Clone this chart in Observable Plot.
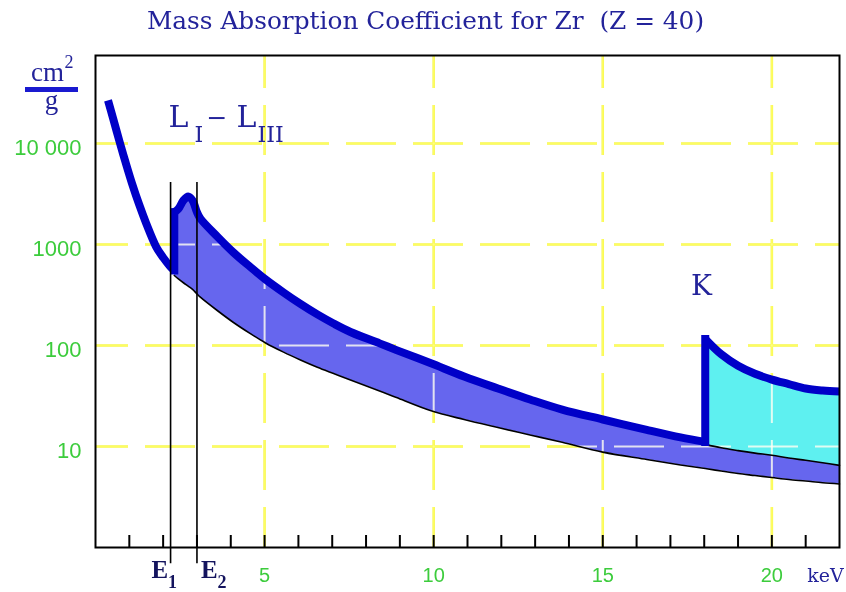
<!DOCTYPE html>
<html><head><meta charset="utf-8">
<script src="https://cdn.jsdelivr.net/npm/d3@7"></script>
<script src="https://cdn.jsdelivr.net/npm/@observablehq/plot@0.6"></script>
<style>html,body{margin:0;padding:0;background:#fff;}</style>
</head><body><div id="chart"></div>
<script>
// ---- data (keV, cm^2/g) ----
const preE  = [0.37, 0.52, 0.71, 0.89, 1.08, 1.29, 1.50, 1.79, 2.00, 2.21, 2.33];
const preMu = [26700, 17700, 10470, 6490, 4020, 2490, 1615, 955, 743, 605, 553];

const lE   = [2.33, 2.45, 2.6, 2.74, 2.87, 3.0, 3.1, 3.6, 4.08, 4.58, 5.03, 5.56, 6.06, 6.56, 7.04, 7.54, 8.4, 8.9, 9.9, 10.9, 11.9, 12.85, 13.8, 15.0, 16.3, 17.3, 18.03];
const lUp  = [2090, 2250, 2730, 2990, 2730, 2090, 1807, 1200, 833, 598, 450, 335, 258, 203, 165, 136, 105, 90, 67, 49.3, 37.5, 29.2, 23.2, 18.5, 14.6, 12.3, 11.1];
const lLow = [493, 457, 418, 387, 360, 324, 301, 222, 169, 131, 106, 86, 72, 61, 52.8, 45.5, 35.5, 30.5, 22.7, 18.5, 15.4, 13.0, 11.0, 8.8, 7.43, 6.56, 6.05];

const kE   = [18.03, 18.5, 19.0, 19.5, 20.0, 20.5, 21.0, 21.5, 22.0];
const kMu  = [116, 82, 63, 52.5, 46, 41.5, 37.5, 35.8, 35];
const kMid = [10.5, 9.7, 9.1, 8.6, 8.2, 7.7, 7.3, 6.9, 6.5];
const kLow = [6.05, 5.71, 5.4, 5.16, 4.93, 4.71, 4.55, 4.38, 4.26];

const edges = [2.22, 3.0];
const edgeNames = ["1", "2"];
const edgeTop = 4100, edgeBottom = 0.69;

const xTicks = [5, 10, 15, 20];
const minorTicks = d3.range(1, 22);
const yTicks = [10, 100, 1000, 10000];
const yTickLabels = ["10", "100", "1000", "10 000"];

const title = "Mass Absorption Coefficient for Zr  (Z = 40)";

// ---- derived tables ----
const band = lE.map((e, i) => ({e, lo: lLow[i], up: lUp[i]}))
  .concat(kE.slice(1).map((e, i) => ({e, lo: kLow[i + 1], up: kMid[i + 1]})));
const kRows = kE.map((e, i) => ({e, mid: kMid[i], mu: kMu[i]}));
const thickSegs = preE.map((e, i) => ({e, v: preMu[i], s: 0}))
  .concat(lE.map((e, i) => ({e, v: lUp[i], s: 1})))
  .concat(kE.map((e, i) => ({e, v: kMu[i], s: 2})));
const jumps = [
  {e: preE[preE.length - 1], v: preMu[preMu.length - 1], s: 0}, {e: lE[0], v: lUp[0], s: 0},
  {e: lE[lE.length - 1], v: lUp[lUp.length - 1], s: 1}, {e: kE[0], v: kMu[0], s: 1}
];
const lowLine = band.map(d => ({e: d.e, v: d.lo}));
const midLine = kRows.map(d => ({e: d.e, v: d.mid}));

// ---- style ----
const W = 846, H = 592, mL = 95, mR = 7, mT = 55, mB = 45;
const yellow = "#f2f23a", blueFill = "#6666ee", cyan = "#5ef0f0", thickBlue = "#0000c8";
const navy = "#23239a", darkNavy = "#14145e", green = "#3ccc3c";
const dash = {stroke: yellow, strokeWidth: 2.5, strokeDasharray: "50,17", strokeDashoffset: 17};
const dashOver = {stroke: yellow, strokeWidth: 2, strokeOpacity: 0.85, strokeDasharray: "50,17", strokeDashoffset: 17, mixBlendMode: "screen"};
const serif = "DejaVu Serif";
const crv = "catmull-rom";

const lAnchor = {e: 2.16, v: 14700};
const lPieces = [
  {t: "L", dx: 0, dy: 0, s: 30}, {t: "I", dx: 26, dy: 15, s: 22},
  {t: "−", dx: 38, dy: -1, s: 25}, {t: "L", dx: 68, dy: 0, s: 30}, {t: "III", dx: 89, dy: 15, s: 22}
];
const kAnchor = {e: 17.92, v: 313};

const textMarks = [];
lPieces.forEach(p => textMarks.push(Plot.text([lAnchor], {x: "e", y: "v", text: () => p.t, dx: p.dx, dy: p.dy,
  fontSize: p.s, fontFamily: serif, fill: navy, textAnchor: "start", lineAnchor: "bottom"})));
textMarks.push(Plot.text([kAnchor], {x: "e", y: "v", text: () => "K", fontSize: 28, fontFamily: serif, fill: navy, textAnchor: "middle", lineAnchor: "bottom"}));
edges.forEach((e, i) => {
  const left = i === 0;
  textMarks.push(Plot.text([e], {x: d => d, frameAnchor: "bottom", text: () => "E", dx: left ? -19 : 4, dy: 30,
    fontSize: 25, fontWeight: "bold", fontFamily: "Liberation Serif", fill: darkNavy, textAnchor: "start", lineAnchor: "bottom"}));
  textMarks.push(Plot.text([e], {x: d => d, frameAnchor: "bottom", text: () => edgeNames[i], dx: left ? -2.5 : 20.5, dy: 40,
    fontSize: 18, fontWeight: "bold", fontFamily: "Liberation Serif", fill: darkNavy, textAnchor: "start", lineAnchor: "bottom"}));
});
textMarks.push(Plot.text(["keV"], {frameAnchor: "bottom-right", text: d => d, dx: -14, dy: 28, fontSize: 19, fontFamily: serif, fill: navy, textAnchor: "middle", lineAnchor: "middle"}));
textMarks.push(Plot.text([title], {frameAnchor: "top", text: d => d, dx: -42, dy: -27, fontSize: 24.8, fontFamily: serif, fill: navy, textAnchor: "middle", lineAnchor: "bottom"}));
textMarks.push(Plot.text(["cm"], {frameAnchor: "top-left", text: d => d, dx: -48, dy: 25, fontSize: 27, fontFamily: "Liberation Serif", fill: navy, textAnchor: "middle", lineAnchor: "bottom"}));
textMarks.push(Plot.text(["2"], {frameAnchor: "top-left", text: d => d, dx: -31, dy: 12, fontSize: 18, fontFamily: "Liberation Serif", fill: navy, textAnchor: "start", lineAnchor: "bottom"}));
textMarks.push(Plot.text(["g"], {frameAnchor: "top-left", text: d => d, dx: -44, dy: 53, fontSize: 27, fontFamily: "Liberation Serif", fill: navy, textAnchor: "middle", lineAnchor: "bottom"}));

const chart = Plot.plot({
  width: W, height: H, marginLeft: mL, marginRight: mR, marginTop: mT, marginBottom: mB,
  style: {background: "#fff", fontFamily: serif},
  x: {domain: [0, 22]},
  y: {type: "log", domain: [1, 74300]},
  marks: [
    Plot.ruleX(xTicks, {x: d => d, ...dash}),
    Plot.ruleY(yTicks, {y: d => d, ...dash}),
    Plot.areaY(band, {x: "e", y1: "lo", y2: "up", fill: blueFill, curve: crv}),
    Plot.areaY(kRows, {x: "e", y1: "mid", y2: "mu", fill: cyan, curve: crv}),
    Plot.ruleX(xTicks, {x: d => d, ...dashOver}),
    Plot.ruleY(yTicks, {y: d => d, ...dashOver}),
    Plot.line(lowLine, {x: "e", y: "v", stroke: "#000", strokeWidth: 1.6, curve: crv}),
    Plot.line(midLine, {x: "e", y: "v", stroke: "#000", strokeWidth: 1.6, curve: crv}),
    Plot.line(thickSegs, {x: "e", y: "v", z: "s", stroke: thickBlue, strokeWidth: 8, strokeLinecap: "butt", curve: crv}),
    Plot.line(jumps, {x: "e", y: "v", z: "s", stroke: thickBlue, strokeWidth: 8, strokeLinecap: "square"}),
    Plot.ruleX(edges, {x: d => d, y1: edgeTop, y2: edgeBottom, stroke: "#000", strokeWidth: 1.6}),
    Plot.frame({stroke: "#000", strokeWidth: 2}),
    Plot.tickX(minorTicks, {x: d => d, insetTop: (H - mT - mB) - 12, stroke: "#000", strokeWidth: 2}),
    Plot.axisX({ticks: xTicks, tickSize: 0, tickPadding: 20, fontSize: 20, fontFamily: "Liberation Sans", fill: green, label: null}),
    Plot.axisY({ticks: yTicks, tickFormat: d => yTickLabels[yTicks.indexOf(d)], tickSize: 0, tickPadding: 14, dy: 4,
      fontSize: 22, fontFamily: "Liberation Sans", fill: green, label: null}),
    ...textMarks
  ]
});
d3.select(chart).append("rect").attr("x", 25).attr("y", 87).attr("width", 53).attr("height", 5).attr("fill", "#1a1ad0");
document.getElementById("chart").appendChild(chart);
</script>
</body></html>
